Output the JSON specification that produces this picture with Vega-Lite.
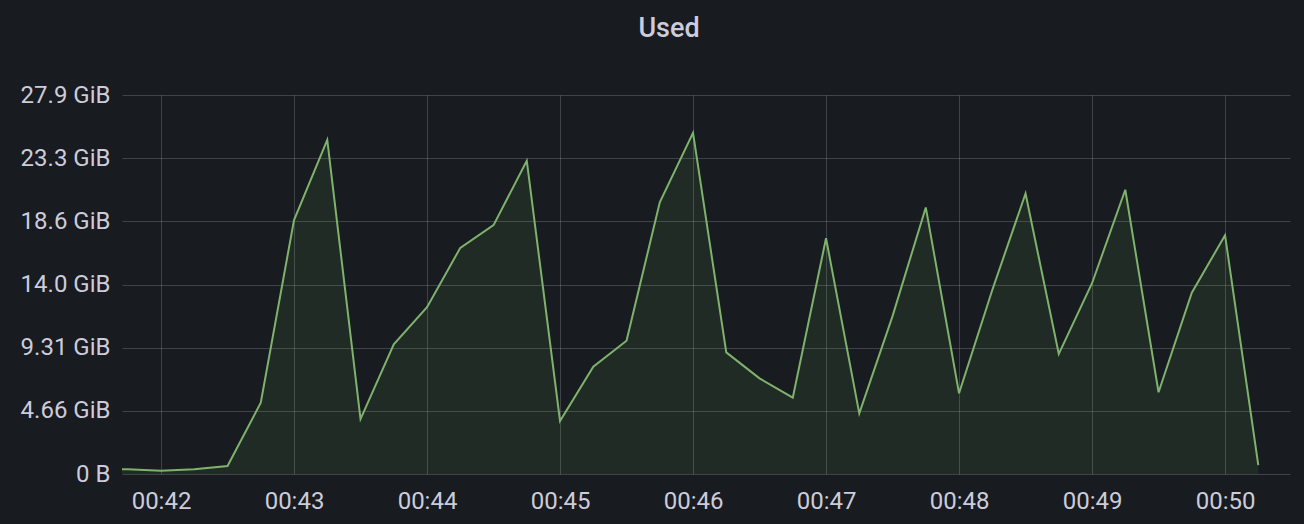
{
  "$schema": "https://vega.github.io/schema/vega-lite/v6.json",
  "autosize": {"type": "fit", "contains": "padding"},
  "width": 1304,
  "height": 524,
  "padding": {"left": 18, "top": 15, "right": 14, "bottom": 11},
  "background": "#181b1f",
  "title": {
    "text": "Used",
    "anchor": "middle",
    "frame": "group",
    "dx": -37,
    "offset": 40,
    "font": "Roboto",
    "fontSize": 27,
    "fontWeight": 500,
    "color": "#ccccdc"
  },
  "config": {
    "view": {"stroke": null},
    "font": "Roboto"
  },
  "data": {
    "values": [
      {"time": "2024-01-01T00:41:30", "used": 0.38},
      {"time": "2024-01-01T00:41:45", "used": 0.37},
      {"time": "2024-01-01T00:42:00", "used": 0.26},
      {"time": "2024-01-01T00:42:15", "used": 0.37},
      {"time": "2024-01-01T00:42:30", "used": 0.63},
      {"time": "2024-01-01T00:42:45", "used": 5.64},
      {"time": "2024-01-01T00:43:00", "used": 20.1},
      {"time": "2024-01-01T00:43:15", "used": 26.45},
      {"time": "2024-01-01T00:43:30", "used": 4.35},
      {"time": "2024-01-01T00:43:45", "used": 10.27},
      {"time": "2024-01-01T00:44:00", "used": 13.2},
      {"time": "2024-01-01T00:44:15", "used": 17.9},
      {"time": "2024-01-01T00:44:30", "used": 19.7},
      {"time": "2024-01-01T00:44:45", "used": 24.8},
      {"time": "2024-01-01T00:45:00", "used": 4.2},
      {"time": "2024-01-01T00:45:15", "used": 8.5},
      {"time": "2024-01-01T00:45:30", "used": 10.55},
      {"time": "2024-01-01T00:45:45", "used": 21.5},
      {"time": "2024-01-01T00:46:00", "used": 27.0},
      {"time": "2024-01-01T00:46:15", "used": 9.63},
      {"time": "2024-01-01T00:46:30", "used": 7.57},
      {"time": "2024-01-01T00:46:45", "used": 6.04},
      {"time": "2024-01-01T00:47:00", "used": 18.66},
      {"time": "2024-01-01T00:47:15", "used": 4.8},
      {"time": "2024-01-01T00:47:30", "used": 12.5},
      {"time": "2024-01-01T00:47:45", "used": 21.1},
      {"time": "2024-01-01T00:48:00", "used": 6.39},
      {"time": "2024-01-01T00:48:15", "used": 14.57},
      {"time": "2024-01-01T00:48:30", "used": 22.2},
      {"time": "2024-01-01T00:48:45", "used": 9.5},
      {"time": "2024-01-01T00:49:00", "used": 15.1},
      {"time": "2024-01-01T00:49:15", "used": 22.5},
      {"time": "2024-01-01T00:49:30", "used": 6.47},
      {"time": "2024-01-01T00:49:45", "used": 14.35},
      {"time": "2024-01-01T00:50:00", "used": 18.9},
      {"time": "2024-01-01T00:50:15", "used": 0.71}
    ]
  },
  "encoding": {
    "x": {
      "field": "time",
      "type": "temporal",
      "title": null,
      "scale": {
        "domain": {"expr": "[datetime(2024, 0, 1, 0, 41, 42, 400), datetime(2024, 0, 1, 0, 50, 29, 300)]"}
      },
      "axis": {
        "format": "%H:%M",
        "tickCount": 9,
        "domain": false,
        "ticks": false,
        "labelFont": "Roboto",
        "labelFontSize": 24,
        "labelColor": "#ccccdc",
        "labelPadding": 15,
        "labelFlush": false,
        "minExtent": 36,
        "maxExtent": 36,
        "gridColor": "#ccccdc",
        "gridOpacity": 0.22
      }
    },
    "y": {
      "field": "used",
      "type": "quantitative",
      "title": null,
      "scale": {"domain": [0, 30], "nice": false},
      "axis": {
        "values": [0, 5, 10, 15, 20, 25, 30],
        "labelExpr": "datum.value == 0 ? '0 B' : format(datum.value * 1000000000 / 1073741824, '.3r') + ' GiB'",
        "domain": false,
        "ticks": false,
        "labelFont": "Roboto",
        "labelFontSize": 24,
        "labelColor": "#ccccdc",
        "labelPadding": 12,
        "minExtent": 104,
        "maxExtent": 104,
        "gridColor": "#ccccdc",
        "gridOpacity": 0.22
      }
    }
  },
  "layer": [
    {"mark": {"type": "area", "color": "#73bf69", "fillOpacity": 0.1, "clip": true}},
    {"mark": {"type": "line", "color": "#7eb26d", "strokeWidth": 2, "clip": true}}
  ]
}
